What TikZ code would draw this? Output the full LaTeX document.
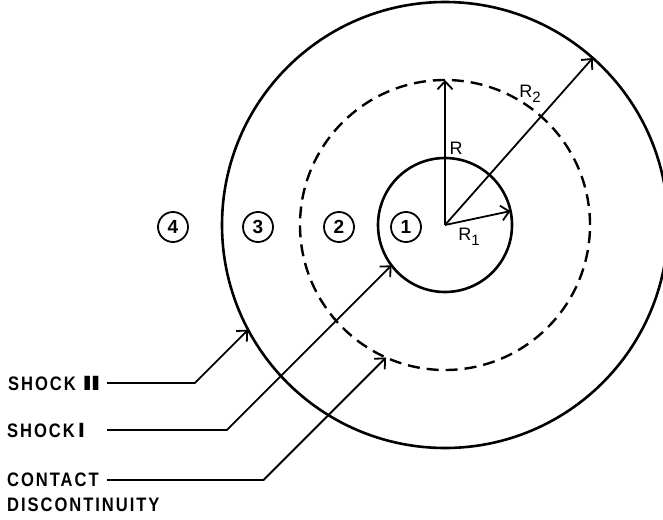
\documentclass[tikz,border=0pt]{standalone}
\usepackage{fontspec}
\usepackage{graphicx}
\setsansfont{Liberation Sans}
\newfontfamily\lblfont[LetterSpace=10,FakeStretch=0.85]{Liberation Sans}
\newfontfamily\romfont{DejaVu Sans}
\usetikzlibrary{arrows.meta,calc}

\begin{document}
\begin{tikzpicture}[
  x=1pt, y=1pt,
  font=\sffamily\fontsize{18}{20}\selectfont,
  front/.style={line width=2.6pt},
  contact/.style={line width=2.4pt, dash pattern=on 12pt off 7pt},
  arr/.style={-{Straight Barb[length=8pt,width=15pt]}, line width=1.8pt},
  region/.style={draw, circle, line width=1.8pt, minimum size=30pt, inner sep=0pt, font=\sffamily\bfseries\fontsize{19}{20}\selectfont},
  lbl/.style={anchor=west, inner sep=0pt, font=\lblfont\bfseries\fontsize{19.5}{22}\selectfont}
]
  \useasboundingbox (0,0) rectangle (663,-519);
  \coordinate (c) at (445,-225);

  % Shock fronts and contact surface
  \draw[front] (c) circle[radius=223];
  \draw[contact] (c) circle[radius=145];
  \draw[front] (c) circle[radius=67];

  % Radii
  \draw[arr] (c) -- ($(c)+(90:145)$);
  \draw[arr] (c) -- ($(c)+(48.5:223)$);
  \draw[arr] (c) -- ($(c)+(12:67)$);
  \node (rlbl) at (456,-148) {R};
  \node (r2lbl) at (530,-94) {R\raisebox{-5pt}{\fontsize{15}{15}\selectfont 2}};
  \node (r1lbl) at (469,-237) {R\raisebox{-5pt}{\fontsize{15}{15}\selectfont 1}};

  % Regions
  \node[region] (reg4) at (173,-227) {4};
  \node[region] (reg3) at (258,-227) {3};
  \node[region] (reg2) at (339,-227) {2};
  \node[region] (reg1) at (406,-227) {1};

  % Labels on the left
  \node[lbl] (shock2) at (8,-383) {SHOCK\hspace{6pt}\scalebox{1.5}[1]{\romfont\bfseries Ⅱ}};
  \node[lbl] (shock1) at (7,-430) {SHOCK\hspace{3pt}{\romfont\bfseries Ⅰ}};
  \node[lbl] (contact) at (7,-480) {CONTACT};
  \node[lbl] (discont) at (7,-505) {DISCONTINUITY};

  % Leaders
  \coordinate (lx) at (107,0);
  \coordinate (tip2) at ($(c)+(208:223)$);
  \coordinate (tip1) at ($(c)+(217:67)$);
  \coordinate (tipc) at ($(c)+(246:145)$);
  \draw[arr] let \p1=(tip2), \p2=(shock2.west -| lx) in
    (\p2) -- (\x1-\y1+\y2,\y2) -- (\p1);
  \draw[arr] let \p1=(tip1), \p2=(shock1.west -| lx) in
    (\p2) -- (\x1-\y1+\y2,\y2) -- (\p1);
  \draw[arr] let \p1=(tipc), \p2=(contact.west -| lx) in
    (\p2) -- (\x1-\y1+\y2,\y2) -- (\p1);
\end{tikzpicture}
\end{document}
